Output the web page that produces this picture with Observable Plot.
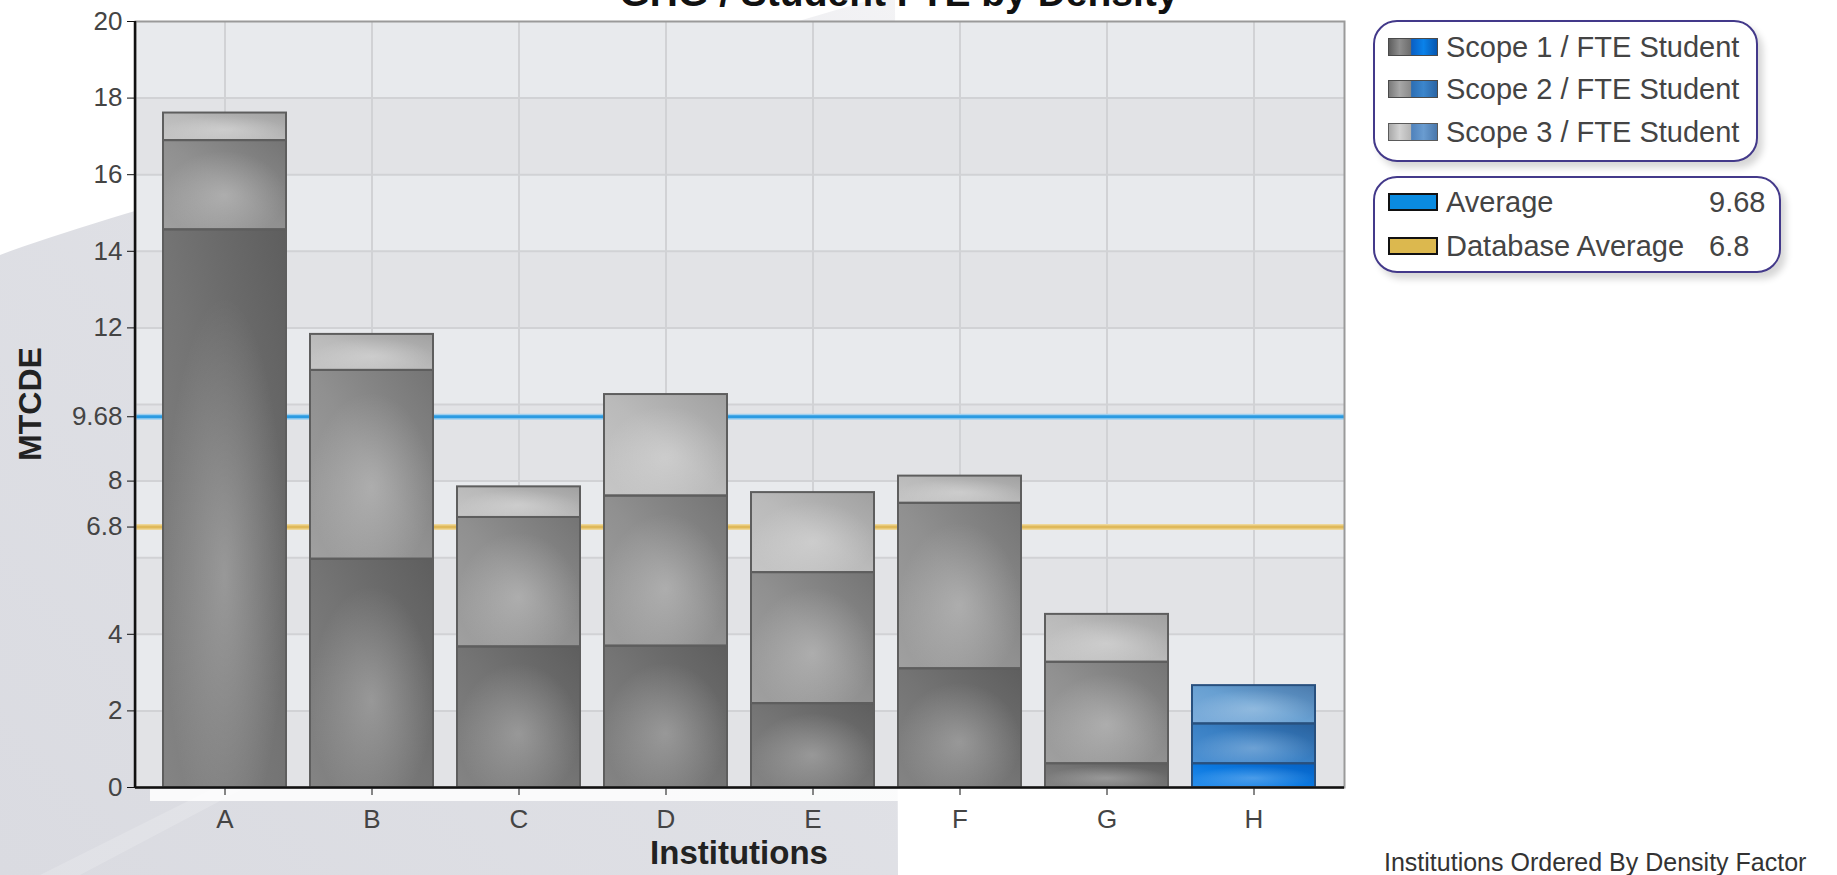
<!DOCTYPE html>
<html><head><meta charset="utf-8">
<script src="https://cdn.jsdelivr.net/npm/d3@7"></script>
<script src="https://cdn.jsdelivr.net/npm/@observablehq/plot@0.6"></script>
<style>
body{margin:0;background:#fff;font-family:"Liberation Sans",Arial,sans-serif;}
#wrap{position:relative;width:1837px;height:875px;overflow:hidden;background:#fff;}
#bg{position:absolute;left:0;top:0;}
#chart{position:absolute;left:0;top:0;}
.abs{position:absolute;white-space:nowrap;}
.title{font-weight:bold;font-size:39px;line-height:39px;color:#111;left:899px;top:-27px;transform:translateX(-50%);}
.axlab{font-weight:bold;color:#222;}
.legend{position:absolute;border:2.5px solid #43398a;border-radius:24px;background:#fff;box-shadow:5px 6px 7px rgba(0,0,0,0.16);box-sizing:border-box;}
.row{position:absolute;left:0;right:0;height:32px;font-size:29px;line-height:32px;color:#444;white-space:nowrap;}
.sw{position:absolute;left:13px;top:7px;width:50px;height:18px;box-sizing:border-box;}
.lt{position:absolute;left:71px;top:0;white-space:nowrap;}
.caption{font-size:25px;color:#333;left:1384px;top:848px;}
</style></head>
<body>
<div id="wrap">
  <svg id="bg" width="1837" height="875">
    <defs>
      <linearGradient id="bgg" x1="0" y1="1" x2="1" y2="0">
        <stop offset="0" stop-color="#dadbe1"/>
        <stop offset="0.6" stop-color="#e0e1e6"/>
        <stop offset="1" stop-color="#f3f3f5"/>
      </linearGradient>
    </defs>
    <path d="M0,255 C150,200 500,110 870,0 L895,0 L898,875 L0,875 Z" fill="url(#bgg)"/>
    <path d="M40,875 L230,780 L260,780 L80,875 Z" fill="#ffffff" opacity="0.18"/>
    <rect x="150" y="789" width="1205" height="12" fill="#ffffff" opacity="0.85"/>
  </svg>
  <div id="chart"></div>
  <div class="abs title">GHG / Student FTE by Density</div>
  <div class="abs axlab" style="font-size:33px;left:739px;top:834px;transform:translateX(-50%);">Institutions</div>
  <div class="abs axlab" style="font-size:32px;left:30px;top:404px;transform:translate(-50%,-50%) rotate(-90deg);">MTCDE</div>

  <div class="legend" style="left:1373px;top:20px;width:385px;height:142px;">
    <div class="row" style="top:9px;"><div class="sw" style="border:1.5px solid #4a4a4a;background:linear-gradient(90deg,#5e5e5e 0%,#8e8e8e 22%,#6c6c6c 46%,#0a5fc4 47%,#0a82ea 72%,#0656b0 100%);"></div><div class="lt">Scope 1 / FTE Student</div></div>
    <div class="row" style="top:51px;"><div class="sw" style="border:1.5px solid #4a4a4a;background:linear-gradient(90deg,#7a7a7a 0%,#a8a8a8 22%,#8a8a8a 46%,#2c6eb4 47%,#3c86cc 72%,#2a64a4 100%);"></div><div class="lt">Scope 2 / FTE Student</div></div>
    <div class="row" style="top:94px;"><div class="sw" style="border:1.5px solid #5a5a5a;background:linear-gradient(90deg,#a8a8a8 0%,#d2d2d2 22%,#b4b4b4 46%,#4f82bc 47%,#6a9cd0 72%,#4a78ac 100%);"></div><div class="lt">Scope 3 / FTE Student</div></div>
  </div>
  <div class="legend" style="left:1373px;top:176px;width:408px;height:97px;">
    <div class="row" style="top:8px;"><div class="sw" style="border:2.5px solid #111;background:#0a8be0;"></div><div class="lt">Average</div><div class="lt" style="left:334px;">9.68</div></div>
    <div class="row" style="top:52px;"><div class="sw" style="border:2.5px solid #111;background:#dcb84e;"></div><div class="lt">Database Average</div><div class="lt" style="left:334px;">6.8</div></div>
  </div>
  <div class="abs caption">Institutions Ordered By Density Factor</div>
</div>
<script>
const institutions = ["A","B","C","D","E","F","G","H"];
const scope1 = [14.56, 5.96, 3.67, 3.69, 2.19, 3.10, 0.62, 0.62];
const scope2 = [2.33, 4.93, 3.38, 3.92, 3.42, 4.32, 2.65, 1.04];
const scope3 = [0.72, 0.94, 0.80, 2.65, 2.09, 0.71, 1.25, 1.00];
const highlighted = "H";
const average = 9.68;
const databaseAverage = 6.8;
const yTicks = [0, 2, 4, 6.8, 8, 9.68, 12, 14, 16, 18, 20];
const gridValues = [2, 4, 6, 8, 10, 12, 14, 16, 18];
const bandStarts = [0, 2, 4, 6, 8, 10, 12, 14, 16, 18];

const rows = [];
institutions.forEach((inst, i) => {
  let base = 0;
  [scope1, scope2, scope3].forEach((arr, k) => {
    rows.push({inst, scope: k + 1, y1: base, y2: base + arr[i], hl: inst === highlighted});
    base += arr[i];
  });
});

const barMarks = [];
for (const k of [1, 2, 3]) {
  barMarks.push(Plot.barY(rows.filter(r => r.scope === k && !r.hl), {x: "inst", y1: "y1", y2: "y2", fill: `url(#g${k})`}));
  barMarks.push(Plot.barY(rows.filter(r => r.scope === k && r.hl), {x: "inst", y1: "y1", y2: "y2", fill: `url(#b${k})`}));
}
barMarks.push(Plot.barY(rows, {x: "inst", y1: "y1", y2: "y2", fill: "url(#hlt)"}));
barMarks.push(Plot.barY(rows.filter(r => !r.hl), {x: "inst", y1: "y1", y2: "y2", fill: "none", stroke: "#5e5e5e", strokeWidth: 2}));
barMarks.push(Plot.barY(rows.filter(r => r.hl), {x: "inst", y1: "y1", y2: "y2", fill: "none", stroke: "#28507e", strokeWidth: 2}));

const chart = Plot.plot({
  width: 1380, height: 875,
  marginLeft: 135, marginRight: 36, marginTop: 21, marginBottom: 88,
  style: {fontFamily: "Liberation Sans, Arial, sans-serif", fontSize: "26px", color: "#111", background: "transparent", overflow: "visible"},
  x: {domain: institutions, paddingInner: 0.16, paddingOuter: 0.166, label: null, tickSize: 8, tickPadding: 14},
  y: {domain: [0, 20], ticks: yTicks, tickFormat: d => String(d), label: null, tickSize: 8, tickPadding: 5},
  marks: [
    Plot.rect(bandStarts.filter(d => (d / 2) % 2 === 0), {y1: d => d, y2: d => d + 2, fill: "#e2e3e6"}),
    Plot.rect(bandStarts.filter(d => (d / 2) % 2 === 1), {y1: d => d, y2: d => d + 2, fill: "#e8eaed"}),
    Plot.ruleY(gridValues, {stroke: "#d1d2d5", strokeWidth: 2}),
    Plot.ruleX(institutions, {stroke: "#d1d2d5", strokeWidth: 2}),
    Plot.ruleY([average], {stroke: "#9fd0f0", strokeWidth: 6}),
    Plot.ruleY([average], {stroke: "#2b9be2", strokeWidth: 3}),
    Plot.ruleY([databaseAverage], {stroke: "#eed799", strokeWidth: 6}),
    Plot.ruleY([databaseAverage], {stroke: "#dfb95a", strokeWidth: 3}),
    ...barMarks,
    Plot.frame({stroke: "#9a9a9a", strokeWidth: 2}),
    Plot.ruleY([0], {stroke: "#111", strokeWidth: 2.5})
  ]
});
document.getElementById("chart").appendChild(chart);

const svg = d3.select(chart);
svg.selectAll("text").attr("fill", "#444");
const defs = svg.insert("defs", ":first-child");
function lin(id, stops) {
  const g = defs.append("linearGradient").attr("id", id)
    .attr("x1", 0).attr("y1", 1).attr("x2", 1).attr("y2", 0);
  stops.forEach(([o, c]) => g.append("stop").attr("offset", o).attr("stop-color", c));
}
lin("g1", [[0, "#848484"], [0.5, "#747474"], [1, "#5e5e5e"]]);
lin("g2", [[0, "#a0a0a0"], [0.5, "#909090"], [1, "#747474"]]);
lin("g3", [[0, "#c6c6c6"], [0.5, "#bababa"], [1, "#a0a0a0"]]);
lin("b1", [[0, "#2a90ee"], [0.5, "#0a78e0"], [1, "#0660c2"]]);
lin("b2", [[0, "#4e92d4"], [0.5, "#3a80c4"], [1, "#28609c"]]);
lin("b3", [[0, "#7eaedc"], [0.5, "#68a0d2"], [1, "#4a7aac"]]);
const rg = defs.append("radialGradient").attr("id", "hlt").attr("cx", 0.5).attr("cy", 0.62).attr("r", 0.5);
rg.append("stop").attr("offset", 0).attr("stop-color", "#fff").attr("stop-opacity", 0.25);
rg.append("stop").attr("offset", 1).attr("stop-color", "#fff").attr("stop-opacity", 0);

// y-axis line along the left edge of the frame
svg.append("line").attr("x1", 135).attr("x2", 135).attr("y1", 21).attr("y2", 788)
  .attr("stroke", "#111").attr("stroke-width", 2.5);
</script>
</body></html>
